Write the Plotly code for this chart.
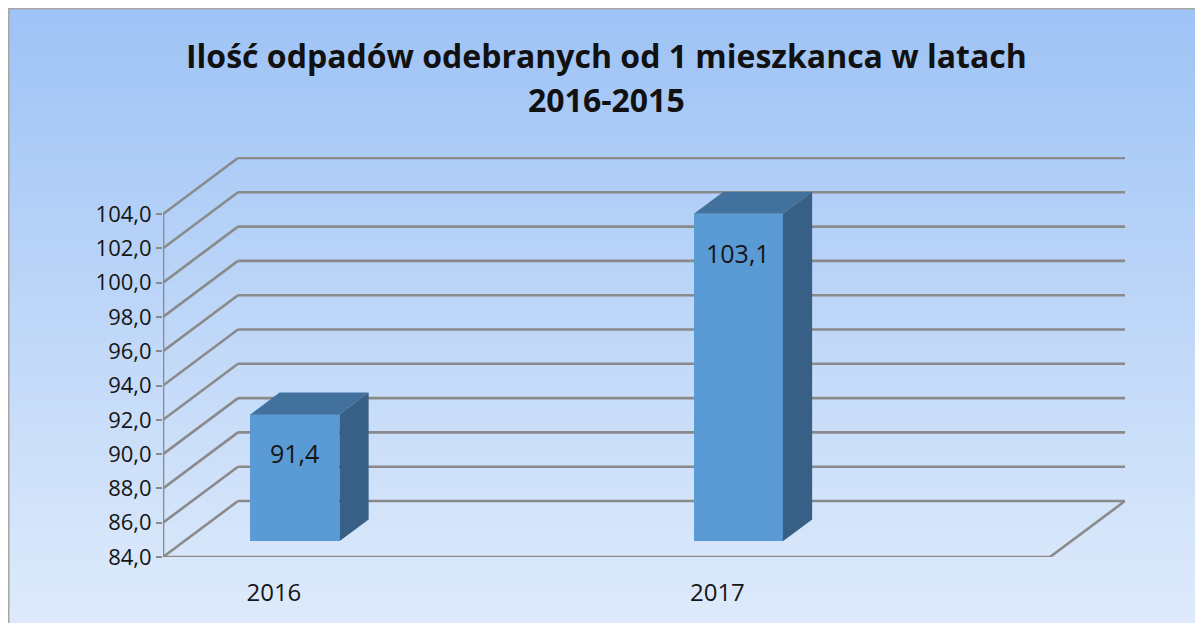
import plotly.graph_objects as go

# ---------------- data ----------------
categories = ["2016", "2017"]
cat_pos = [0, 2]            # slot index of each category (4 slots, two empty)
values = [91.4, 103.1]
value_labels = ["91,4", "103,1"]
y_ticks = [84, 86, 88, 90, 92, 94, 96, 98, 100, 102, 104]
slot_edges = [-0.5, 0.5, 1.5, 2.5, 3.5]
title_lines = ["Ilość odpadów odebranych od 1 mieszkanca w latach", "2016-2015"]

# ---------------- geometry / style ----------------
W, H = 1195, 615            # page body margin of 8px puts the figure at (8,8)
L, R, T, B = 155, 78, 149, 66
PX_X = 221.75               # px per slot
PX_Y = 17.15                # px per y unit
DX = 75 / PX_X              # depth vector in data units
DY = 56 / PX_Y
Y0 = 84
XMIN = -0.5
XMAX = XMIN + (W - L - R) / PX_X
YMAX = Y0 + (H - T - B) / PX_Y

BAR_W = 89 / PX_X
F_FRONT = 0.28
F_DEPTH = 0.39
GRID = "#8a8a8a"
FRONT = "#5b9bd5"
TOP = "#41719c"
SIDE = "#385f85"
TXT = "#151515"
FONT = "Open Sans"

fig = go.Figure()

# ---------------- background gradient (paper) ----------------
shapes = []
pw, ph = W - L - R, H - T - B
def px2paper_x(px):
    return (px - L) / pw
def px2paper_y(py):
    return (H - B - py) / ph

top_c = (158, 195, 245)
bot_c = (222, 234, 251)
n = 80
y_start, y_end = 0, H
for i in range(n):
    a = i / (n - 1)
    c = tuple(int(round(top_c[k] + (bot_c[k] - top_c[k]) * a)) for k in range(3))
    py0 = y_start + (y_end - y_start) * i / n
    py1 = y_start + (y_end - y_start) * (i + 1) / n + 1
    shapes.append(dict(type="rect", xref="paper", yref="paper", layer="below",
                       x0=px2paper_x(-1), x1=px2paper_x(W + 2),
                       y0=px2paper_y(py0), y1=px2paper_y(min(py1, H + 2)),
                       line=dict(width=0), fillcolor="rgb(%d,%d,%d)" % c))
shapes.append(dict(type="rect", xref="paper", yref="paper", layer="below",
                   x0=px2paper_x(0.75), x1=px2paper_x(W + 5),
                   y0=px2paper_y(0.75), y1=px2paper_y(H + 5),
                   line=dict(width=1.5, color="#a6a6a6"), fillcolor="rgba(0,0,0,0)"))

# ---------------- 3D walls / gridlines ----------------
def seg(x0, y0, x1, y1, w=2.6):
    shapes.append(dict(type="line", xref="x", yref="y", layer="below",
                       x0=x0, y0=y0, x1=x1, y1=y1,
                       line=dict(color=GRID, width=w)))

for v in y_ticks:
    seg(XMIN, v, XMIN + DX, v + DY)
    seg(XMIN + DX, v + DY, slot_edges[-1] + DX, v + DY)
# front axis & floor
seg(XMIN, Y0, XMIN, y_ticks[-1])
seg(XMIN, Y0, slot_edges[-1], Y0)
seg(slot_edges[-1], Y0, slot_edges[-1] + DX, Y0 + DY)
for e in slot_edges:
    seg(e, Y0, e, Y0 - 8 / PX_Y, w=1.6)

# ---------------- bars ----------------
bx = [p + F_FRONT * DX for p in cat_pos]
base = Y0 + F_FRONT * DY
fig.add_trace(go.Bar(x=bx, y=[v - Y0 for v in values], base=base, width=BAR_W,
                     marker=dict(color=FRONT, line=dict(width=0)),
                     hoverinfo="skip", showlegend=False))

for x, v in zip(bx, values):
    top = v + F_FRONT * DY
    xl, xr = x - BAR_W / 2, x + BAR_W / 2
    ddx, ddy = F_DEPTH * DX, F_DEPTH * DY
    fig.add_trace(go.Scatter(x=[xl, xr, xr + ddx, xl + ddx, xl],
                             y=[top, top, top + ddy, top + ddy, top],
                             mode="lines", fill="toself", fillcolor=TOP,
                             line=dict(width=0, color=TOP),
                             hoverinfo="skip", showlegend=False))
    fig.add_trace(go.Scatter(x=[xr, xr, xr + ddx, xr + ddx, xr],
                             y=[base, top, top + ddy, base + ddy, base],
                             mode="lines", fill="toself", fillcolor=SIDE,
                             line=dict(width=0, color=SIDE),
                             hoverinfo="skip", showlegend=False))

annotations = []
for x, v, t in zip(bx, values, value_labels):
    annotations.append(dict(x=x, y=v + F_FRONT * DY, xref="x", yref="y",
                            text=t, showarrow=False, yshift=-39,
                            xanchor="center", yanchor="middle",
                            font=dict(family=FONT, size=25, color=TXT)))

for txt, py in zip(title_lines, [47, 92]):
    annotations.append(dict(x=px2paper_x(598), y=px2paper_y(py), xref="paper", yref="paper",
                            text="<b>%s</b>" % txt, showarrow=False,
                            xanchor="center", yanchor="middle",
                            font=dict(family=FONT, size=32, color="#111111")))

fig.update_layout(
    width=W, height=H,
    margin=dict(l=L, r=R, t=T, b=B, pad=0),
    paper_bgcolor="white", plot_bgcolor="rgba(0,0,0,0)",
    separators=", ",
    shapes=shapes, annotations=annotations,
    showlegend=False, bargap=0,
    xaxis=dict(range=[XMIN, XMAX], tickvals=cat_pos, ticktext=categories,
               showgrid=False, zeroline=False, showline=False,
               ticks="outside", ticklen=14, tickcolor="rgba(0,0,0,0)",
               tickfont=dict(family=FONT, size=24, color=TXT), fixedrange=True),
    yaxis=dict(range=[Y0, YMAX], tickvals=y_ticks, tickformat=".1f",
               showgrid=False, zeroline=False, showline=False,
               ticks="outside", ticklen=6, tickcolor=GRID, tickwidth=1.6,
               tickfont=dict(family=FONT, size=22, color=TXT), fixedrange=True),
)

fig.write_html("out.html")
